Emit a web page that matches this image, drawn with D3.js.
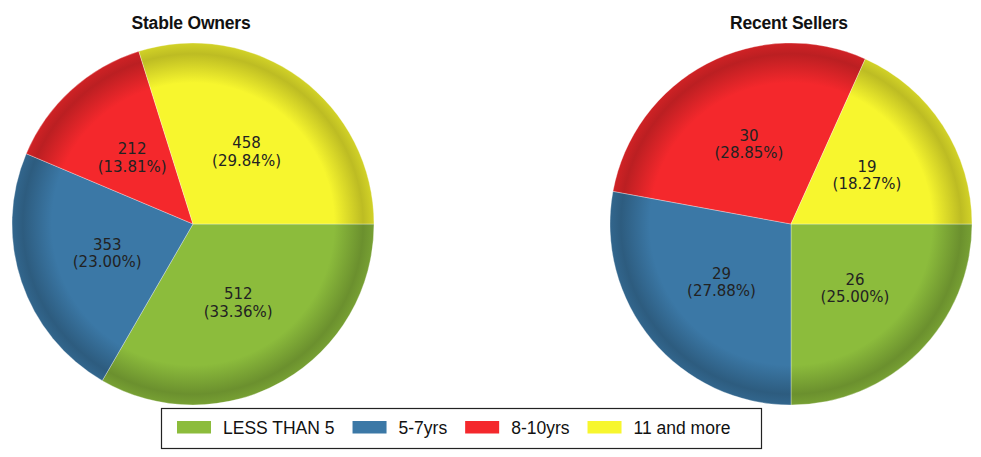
<!DOCTYPE html>
<html>
<head>
<meta charset="utf-8">
<script src="https://cdn.jsdelivr.net/npm/d3@7"></script>
<style>
  html, body { margin: 0; padding: 0; background: #fff; }
  svg { display: block; }
</style>
</head>
<body>
<svg id="chart" width="981" height="457"></svg>
<script>
const categories = ["LESS THAN 5", "5-7yrs", "8-10yrs", "11 and more"];
const colors = ["#8cbc3c", "#3b78a6", "#f4282c", "#f7f62e"];
const pieTitles = ["Stable Owners", "Recent Sellers"];
const stableOwners = [512, 353, 212, 458];
const recentSellers = [26, 29, 30, 19];

const W = 981, H = 457;
const svg = d3.select("#chart");
const R = 181;
const centers = [[193, 224], [791, 224]];

// gradients: flat centre, darker bevel near the rim
const defs = svg.append("defs");
colors.forEach((c, i) => {
  const base = d3.rgb(c);
  const g = defs.append("radialGradient")
    .attr("id", "grad" + i)
    .attr("gradientUnits", "userSpaceOnUse")
    .attr("cx", 0).attr("cy", 0).attr("r", R);
  g.append("stop").attr("offset", "0%").attr("stop-color", base.formatHex());
  g.append("stop").attr("offset", "78%").attr("stop-color", base.formatHex());
  g.append("stop").attr("offset", "94%").attr("stop-color", base.darker(0.75).formatHex());
  g.append("stop").attr("offset", "100%").attr("stop-color", base.darker(0.45).formatHex());
});

const pie = d3.pie().sort(null).startAngle(Math.PI / 2).endAngle(Math.PI / 2 + 2 * Math.PI);
const arc = d3.arc().innerRadius(0).outerRadius(R);
const labelArc = d3.arc().innerRadius(R * 0.5).outerRadius(R * 0.5);

[stableOwners, recentSellers].forEach((vals, pi) => {
  const total = d3.sum(vals);
  const g = svg.append("g").attr("transform", `translate(${centers[pi][0]},${centers[pi][1]})`);
  const arcs = pie(vals);
  g.selectAll("path").data(arcs).join("path")
    .attr("d", arc)
    .attr("fill", (d, i) => `url(#grad${i})`)
    .attr("stroke", "rgba(255,255,255,0.45)")
    .attr("stroke-width", 0.7);

  const lab = g.selectAll("text.lab").data(arcs).join("text")
    .attr("class", "lab")
    .attr("transform", d => `translate(${labelArc.centroid(d)})`)
    .attr("text-anchor", "middle")
    .attr("font-family", "DejaVu Sans, Verdana, sans-serif")
    .attr("font-size", 15)
    .attr("fill", "#222");
  lab.append("tspan").attr("x", 0).attr("y", -3).text(d => d.data);
  lab.append("tspan").attr("x", 0).attr("y", 14.5)
    .text(d => "(" + (d.data / total * 100).toFixed(2) + "%)");

  svg.append("text")
    .attr("x", centers[pi][0] - 2)
    .attr("y", 29)
    .attr("text-anchor", "middle")
    .attr("font-family", "Liberation Sans, Arial, sans-serif")
    .attr("font-weight", "bold")
    .attr("font-size", 17.5)
    .attr("letter-spacing", -0.2)
    .attr("fill", "#111")
    .text(pieTitles[pi]);
});

// legend
const lg = svg.append("g");
lg.append("rect")
  .attr("x", 161.5).attr("y", 408.5).attr("width", 600).attr("height", 40)
  .attr("fill", "#fff").attr("stroke", "#222").attr("stroke-width", 1.2);
let x = 177;
categories.forEach((c, i) => {
  lg.append("rect").attr("x", x).attr("y", 421).attr("width", 34).attr("height", 12.5)
    .attr("fill", colors[i]);
  const t = lg.append("text").attr("x", x + 46).attr("y", 434)
    .attr("font-family", "Liberation Sans, Arial, sans-serif")
    .attr("font-size", 17.5)
    .attr("fill", "#111")
    .text(c);
  x += 46 + t.node().getComputedTextLength() + 18;
});
</script>
</body>
</html>
